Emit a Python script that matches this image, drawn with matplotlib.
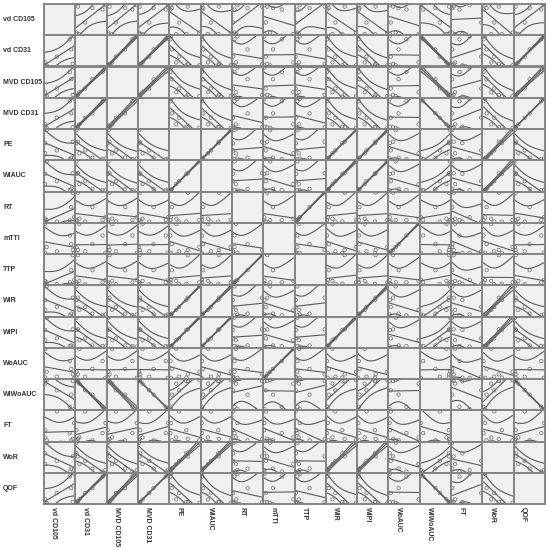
"""Scatterplot matrix of perfusion / vessel density parameters with fit lines and 95% CI."""

import numpy as np
import matplotlib.pyplot as plt

# variable names in plot order
names = ['vd CD105', 'vd CD31', 'MVD CD105', 'MVD CD31', 'PE', 'WiAUC', 'RT', 'mTTI',
         'TTP', 'WiR', 'WiPI', 'WoAUC', 'WiWoAUC', 'FT', 'WoR', 'QOF']

# per-case values (estimated from the panels, normalised units)
vd_cd105 = [0.05, 0.00, 0.95, 0.00, 0.40, 0.90, 0.85, 1.00]
vd_cd31 = [0.00, 0.00, 0.05, 0.10, 0.30, 0.55, 0.90, 1.00]
mvd_cd105 = [0.02, 0.00, 0.06, 0.15, 0.28, 0.60, 0.85, 1.00]
mvd_cd31 = [0.00, 0.04, 0.02, 0.12, 0.35, 0.50, 0.92, 1.00]
pe = [1.00, 0.55, 0.60, 0.20, 0.30, 0.05, 0.00, 0.02]
wiauc = [0.98, 0.56, 0.58, 0.21, 0.31, 0.05, 0.01, 0.00]
rt = [0.05, 0.00, 1.00, 0.10, 0.00, 0.50, 0.05, 0.15]
mtti = [0.20, 0.00, 0.10, 1.00, 0.05, 0.30, 0.60, 0.00]
ttp = [0.06, 0.01, 1.00, 0.11, 0.00, 0.48, 0.06, 0.14]
wir = [1.00, 0.53, 0.61, 0.19, 0.29, 0.06, 0.00, 0.03]
wipi = [0.99, 0.57, 0.59, 0.22, 0.28, 0.04, 0.02, 0.00]
woauc = [0.21, 0.01, 0.12, 1.00, 0.04, 0.31, 0.58, 0.00]
wiwoauc = [1.00, 0.96, 0.97, 0.88, 0.65, 0.50, 0.08, 0.00]
ft = [0.00, 0.35, 0.05, 0.10, 1.00, 0.00, 0.25, 0.60]
wor = [0.95, 0.60, 0.50, 0.25, 0.35, 0.10, 0.00, 0.05]
qof = [0.00, 0.03, 0.03, 0.12, 0.34, 0.51, 0.91, 1.00]

columns = [vd_cd105, vd_cd31, mvd_cd105, mvd_cd31, pe, wiauc, rt, mtti,
           ttp, wir, wipi, woauc, wiwoauc, ft, wor, qof]

W, H = 549, 550
GRID_L, GRID_R, GRID_T, GRID_B = 44, 545, 4, 504
PANEL_BG = '#f0f0f0'
FRAME = '#858585'
LINE = '#5a5a5a'
TEXT = '#333333'
T95 = 2.447  # t(0.975, df=6)
LABEL_FONT = 'Liberation Sans'


def fit_with_ci(x, y, xs):
    """Least squares line plus 95% confidence band of the mean."""
    n = len(x)
    b, a = np.polyfit(x, y, 1)
    resid = y - (a + b * x)
    s = np.sqrt(np.sum(resid ** 2) / (n - 2))
    sxx = np.sum((x - x.mean()) ** 2)
    yhat = a + b * xs
    se = s * np.sqrt(1.0 / n + (xs - x.mean()) ** 2 / sxx)
    return yhat, yhat - T95 * se, yhat + T95 * se


fig = plt.figure(figsize=(W / 100, H / 100), dpi=100)
k = len(names)
cw = (GRID_R - GRID_L) / k
ch = (GRID_B - GRID_T) / k
data = [np.asarray(c, dtype=float) for c in columns]

for i in range(k):          # rows -> y variable
    for j in range(k):      # cols -> x variable
        left = (GRID_L + j * cw) / W
        bottom = 1 - (GRID_T + (i + 1) * ch) / H
        ax = fig.add_axes([left, bottom, cw / W, ch / H])
        ax.set_facecolor(PANEL_BG)
        ax.set_xticks([])
        ax.set_yticks([])
        for sp in ax.spines.values():
            sp.set_color(FRAME)
            sp.set_linewidth(1.4)
        x, y = data[j], data[i]
        pad_x = 0.04 * (x.max() - x.min())
        pad_y = 0.04 * (y.max() - y.min())
        ax.set_xlim(x.min() - pad_x, x.max() + pad_x)
        ax.set_ylim(y.min() - pad_y, y.max() + pad_y)
        if i == j:
            continue
        xs = np.linspace(x.min(), x.max(), 60)
        yhat, lo, hi = fit_with_ci(x, y, xs)
        ax.plot(xs, yhat, color=LINE, lw=0.8)
        ax.plot(xs, lo, color=LINE, lw=0.8)
        ax.plot(xs, hi, color=LINE, lw=0.8)
        ax.scatter(x, y, s=6, facecolors='none', edgecolors='#6a6a6a', linewidths=0.5,
                   zorder=3)

# row labels on the left
for i, name in enumerate(names):
    yc = 1 - (GRID_T + (i + 0.5) * ch) / H
    fig.text(3 / W, yc, name, ha='left', va='center', fontsize=5.0,
             fontweight='bold', color=TEXT, family=LABEL_FONT)

# column labels below, rotated
for j, name in enumerate(names):
    xc = (GRID_L + j * cw + 10) / W
    fig.text(xc, 1 - (GRID_B + 3) / H, name, ha='center', va='top', rotation=270,
             fontsize=5.0, fontweight='bold', color=TEXT, family=LABEL_FONT)

fig.savefig('out.png', dpi=100)
